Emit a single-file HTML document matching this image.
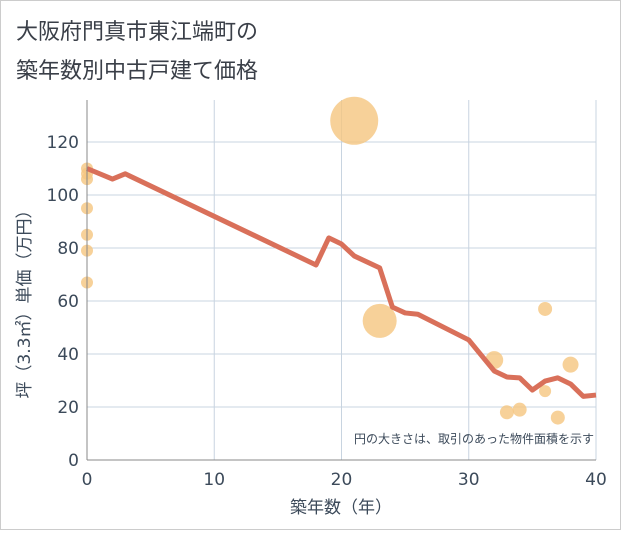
<!DOCTYPE html>
<html><head><meta charset="utf-8"><style>
body{margin:0;background:#fff;}
</style></head><body>
<svg width="621" height="530" xmlns="http://www.w3.org/2000/svg" font-family="DejaVu Sans, Noto Sans CJK JP, sans-serif">
<rect x="0.5" y="0.5" width="620" height="529" fill="#fff" stroke="#ccc"/>
<text x="16" y="39" font-size="22" fill="#3a3f48">大阪府門真市東江端町の</text>
<text x="16" y="78" font-size="22" fill="#3a3f48">築年数別中古戸建て価格</text>
<g id="grid"></g>
<g id="bubbles"></g>
<g id="line"></g>
<g id="axes"></g>
<text x="594" y="443" font-size="12" fill="#3c4a5a" text-anchor="end">円の大きさは、取引のあった物件面積を示す</text>
<text x="341" y="513" font-size="17" fill="#3c4a5a" text-anchor="middle">築年数（年）</text>
<text transform="translate(30,300) rotate(-90)" font-size="17" fill="#3c4a5a" text-anchor="middle">坪（3.3㎡）単価（万円）</text>
</svg>
<script>
const xTicks=[0,10,20,30,40];
const yTicks=[0,20,40,60,80,100,120];
const lineAges=[0,2,3,18,19,20,21,23,24,25,26,30,32,33,34,35,36,37,38,39,40];
const linePrices=[110,106,108,73.6,83.8,81.5,77,72.5,57.7,55.5,55,45.3,33.6,31.3,31,26.4,29.8,31,28.7,24,24.5];
const bubAges=[0,0,0,0,0,0,0,21,23,32,36,38,33,34,36,37];
const bubPrices=[110,108,106,95,85,79,67,128,52.5,37.7,57,36,18,19,26,16];
const bubAreas=[36,36,36,36,36,36,36,576,289,81,49,64,49,49,36,49];
const X0=87,X1=596,Y0=460,Y1=142;
const sx=v=>X0+(v-0)/40*(X1-X0);
const sy=v=>Y0-v/120*(Y0-Y1);
const NS="http://www.w3.org/2000/svg";
function mk(t,a,p){const e=document.createElementNS(NS,t);for(const k in a)e.setAttribute(k,a[k]);p.appendChild(e);return e;}
const g=document.getElementById('grid'),ax=document.getElementById('axes');
xTicks.forEach(t=>{
 const l=mk('line',{x1:sx(t),x2:sx(t),y1:100,y2:Y0,stroke:'#c8d4e0','stroke-width':1},g);
 
 
 const tx=mk('text',{x:sx(t),y:Y0+25,'font-size':17,fill:'#3c4a5a','text-anchor':'middle'},ax);
 tx.textContent=t;
 
 
});
yTicks.forEach(t=>{
 const l=mk('line',{x1:X0,x2:X1,y1:sy(t),y2:sy(t),stroke:'#c8d4e0','stroke-width':1},g);
 
 
 const tx=mk('text',{x:X0-8,y:sy(t)+6,'font-size':17,fill:'#3c4a5a','text-anchor':'end'},ax);
 tx.textContent=t;
 
 
});
const ya=mk('line',{x1:X0,x2:X0,y1:100,y2:Y0,stroke:'#888','stroke-width':1},ax);


const xa=mk('line',{x1:X0,x2:X1,y1:Y0,y2:Y0,stroke:'#888','stroke-width':1},ax);


const b=document.getElementById('bubbles');
bubAges.forEach((a,i)=>{
 const c=mk('circle',{cx:sx(a),cy:sy(bubPrices[i]),r:Math.sqrt(bubAreas[i]),fill:'#f5c57f','fill-opacity':0.8},b);
 
 
});
const pts=lineAges.map((a,i)=>sx(a)+','+sy(linePrices[i])).join(' ');
const pl=mk('polyline',{points:pts,fill:'none',stroke:'#d9705a','stroke-width':5,'stroke-linejoin':'round'},document.getElementById('line'));


</script>
</body></html>
